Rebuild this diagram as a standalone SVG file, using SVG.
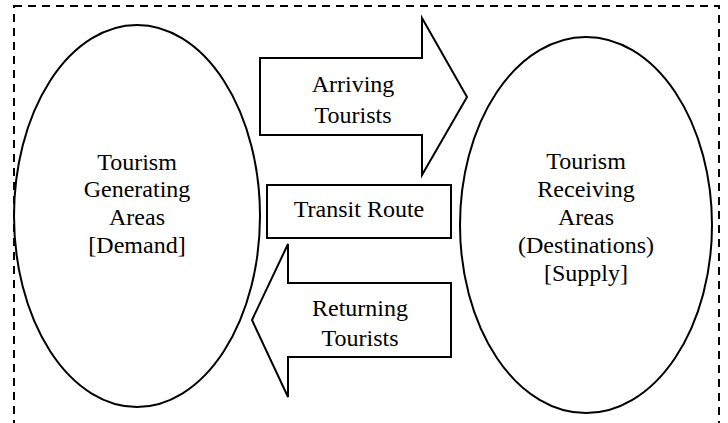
<svg xmlns="http://www.w3.org/2000/svg" width="728" height="423" viewBox="0 0 728 423">
<style>
.s{fill:#fff;stroke:#000;stroke-width:2}
.t{font-family:"Liberation Serif","Times New Roman",serif;font-size:24px;fill:#000;text-anchor:middle}
</style>
<rect x="0" y="0" width="728" height="423" fill="#fff"/>
<g id="frame"><rect x="14" y="6" width="705" height="430" fill="none" stroke="#000" stroke-width="2" stroke-dasharray="8 6"/></g>
<g id="generating">
<ellipse class="s" cx="137" cy="216" rx="123" ry="191"/>
<text class="t" x="137" y="170">Tourism</text>
<text class="t" x="137" y="197">Generating</text>
<text class="t" x="137" y="225">Areas</text>
<text class="t" x="137" y="253">[Demand]</text>
</g>
<g id="receiving">
<ellipse class="s" cx="586" cy="225" rx="126" ry="188"/>
<text class="t" x="586" y="169">Tourism</text>
<text class="t" x="586" y="197">Receiving</text>
<text class="t" x="586" y="225">Areas</text>
<text class="t" x="586" y="253">(Destinations)</text>
<text class="t" x="586" y="281">[Supply]</text>
</g>
<g id="connectors">
<g id="arriving">
<polygon class="s" points="260,58 422,58 422,18 467,97 422,175 422,135 260,135"/>
<text class="t" x="353" y="92">Arriving</text>
<text class="t" x="353" y="123">Tourists</text>
</g>
<g id="transit">
<rect class="s" x="267" y="185" width="184" height="53"/>
<text class="t" x="359" y="217">Transit Route</text>
</g>
<g id="returning">
<polygon class="s" points="451,283 288,283 288,244 252,320 288,397 288,357 451,357"/>
<text class="t" x="360" y="316">Returning</text>
<text class="t" x="360" y="346">Tourists</text>
</g>
</g>
</svg>
